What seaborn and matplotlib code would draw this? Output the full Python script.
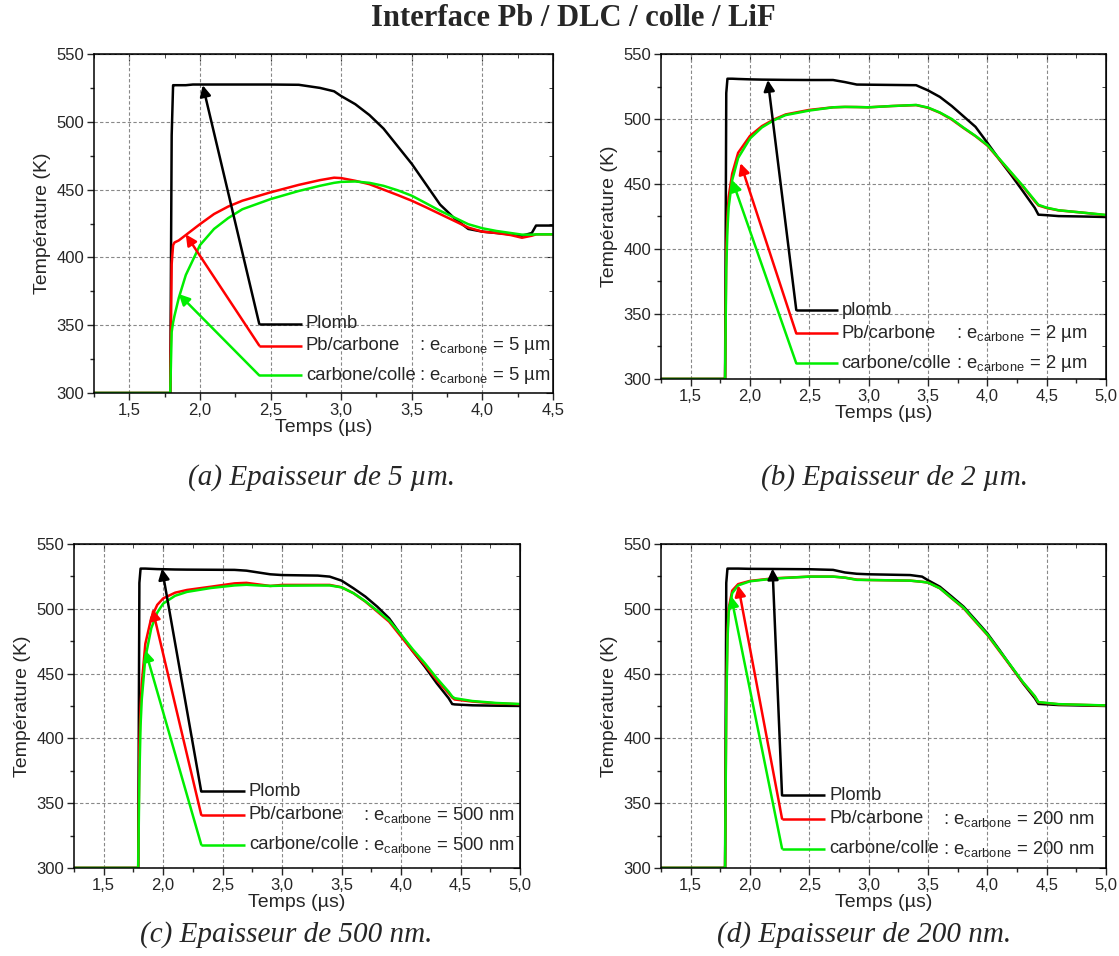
import matplotlib
matplotlib.use("Agg")
import matplotlib.pyplot as plt
import seaborn as sns
from matplotlib.ticker import MultipleLocator, FuncFormatter

# Data (time in µs, temperature in K)

# (a) 5 µm
t_a = [1.25, 1.78, 1.79, 1.80, 1.81, 1.82, 1.85, 1.9, 1.95, 2.0, 2.1, 2.2, 2.3, 2.5, 2.7, 2.85, 2.95,
       3.0, 3.1, 3.2, 3.3, 3.4, 3.5, 3.6, 3.7, 3.8, 3.9, 4.0, 4.1, 4.2, 4.28, 4.35, 4.38, 4.5]
plomb_a = [300, 300, 300, 490, 527, 527, 527, 527, 527.5, 527.5, 527.5, 527.5, 527.5, 527.5, 527.3, 525, 522.5,
           519, 513, 505, 495, 482, 469, 454, 439, 429, 421, 419, 418, 417, 416, 418, 423.5, 423.5]
pb_carbone_a = [300, 300, 300, 395, 409, 411, 412.5, 416.5, 420.5, 424.5, 432, 437.5, 441.8, 448, 453.5, 457, 458.8,
                458.5, 456.5, 454, 450, 446, 441.8, 437, 432, 427, 422, 419, 418, 416.5, 414.5, 416, 417, 417]
carbone_colle_a = [300, 300, 300, 345, 352, 357, 370, 387, 398, 409, 421, 429, 435.5, 443, 449, 452.8, 455,
                   455.7, 456, 455, 452.8, 449.5, 445.5, 440, 434.4, 429.5, 424.5, 421.5, 419.5, 418, 416.8, 416.8, 417, 417]

# (b) 2 µm
t_b = [1.25, 1.78, 1.79, 1.80, 1.81, 1.82, 1.85, 1.9, 2.0, 2.1, 2.2, 2.3, 2.5, 2.7, 2.8, 2.9, 3.0, 3.2, 3.4, 3.5,
       3.6, 3.7, 3.8, 3.9, 4.0, 4.1, 4.2, 4.3, 4.4, 4.43, 4.5, 4.6, 4.8, 5.0]
plomb_b = [300, 300, 300, 520, 531, 531, 531, 530.8, 530.5, 530.3, 530.2, 530.1, 530, 530, 528.4, 526.5, 526.4, 526.2, 526, 522,
           517, 510, 502, 494, 481.7, 469, 457, 444.4, 431.6, 426.4, 426, 425.3, 425, 424.6]
pb_carbone_b = [300, 300, 300, 400, 425, 440, 458, 474, 487, 494.5, 499.6, 503.5, 507, 509, 509.3, 509.2, 509, 510, 510.7, 508.6,
                504.8, 499.6, 493, 486.8, 479.6, 469, 458.5, 448, 436.7, 433.5, 431.5, 429.7, 428, 426]
carbone_colle_b = [300, 300, 300, 385, 415, 432, 453, 470, 485, 493.5, 499, 503, 506.5, 509, 509.3, 509.2, 509, 510, 510.8, 508.8,
                   505, 500, 493.3, 487, 480, 469.5, 459, 448.5, 437.3, 434, 431.8, 429.8, 428, 426.2]

# (c) 500 nm
t_c = [1.25, 1.78, 1.79, 1.80, 1.81, 1.82, 1.85, 1.9, 1.95, 2.0, 2.1, 2.2, 2.4, 2.6, 2.7, 2.8, 2.9, 3.0, 3.3, 3.4,
       3.5, 3.6, 3.7, 3.8, 3.9, 4.0, 4.1, 4.2, 4.3, 4.4, 4.43, 4.45, 4.6, 4.8, 5.0]
plomb_c = [300, 300, 300, 520, 531, 531, 531, 530.8, 530.6, 530.5, 530.3, 530.2, 530.1, 530, 529.4, 528, 526.6, 526, 525.6, 524.8,
           521.7, 515.8, 509.4, 501.6, 492.6, 479.8, 467, 455.3, 442.5, 431, 426.5, 426.2, 425.5, 425.2, 425]
pb_carbone_c = [300, 300, 300, 395, 425, 442, 473, 493, 503, 508, 512.4, 514.5, 517, 519.6, 520, 518.8, 517.6, 518.4, 518.4, 518.4,
                516.6, 512, 505.5, 497.8, 490, 478.5, 467, 456.6, 445, 434.8, 431.5, 430, 428.4, 427, 426.3]
carbone_colle_c = [300, 300, 300, 370, 410, 430, 462, 485, 497, 504, 510, 513, 516, 518, 518.5, 518, 517.6, 517.8, 518, 518,
                   516.5, 512, 505.8, 498.5, 491, 480, 468.5, 458, 446.5, 436, 432.3, 431, 428.8, 427.3, 426.5]

# (d) 200 nm
t_d = [1.25, 1.78, 1.79, 1.80, 1.81, 1.82, 1.85, 1.9, 2.0, 2.2, 2.5, 2.7, 2.8, 2.9, 3.0, 3.35, 3.45, 3.5, 3.6, 3.7,
       3.8, 3.9, 4.0, 4.1, 4.2, 4.3, 4.4, 4.43, 4.6, 5.0]
plomb_d = [300, 300, 300, 520, 531, 531, 531, 531, 530.8, 530.7, 530.5, 530, 528, 527, 526.6, 526, 524.8, 522, 517, 509.4,
           501.6, 491.4, 481, 468.5, 455.5, 442.6, 431, 426.6, 425.7, 425]
pb_carbone_d = [300, 300, 300, 430, 480, 500, 514, 519, 521.5, 523.5, 524.8, 524.8, 524, 522.5, 522.2, 521.7, 520.8, 520.2, 515.8, 508,
                500.4, 490, 479.8, 467.5, 455.3, 443, 432.3, 427.8, 426.3, 425.3]
carbone_colle_d = [300, 300, 300, 420, 475, 497, 512, 518, 521.2, 523.3, 524.8, 524.8, 524, 522.3, 522.2, 521.7, 520.8, 520.2, 515.8, 508.2,
                   500.8, 490.5, 480.2, 468, 455.8, 443.4, 432.6, 428, 426.4, 425.4]

first_labels = ["Plomb", "plomb", "Plomb", "Plomb"]
thickness = ["5 µm", "2 µm", "500 nm", "200 nm"]
captions = ["(a) Epaisseur de 5 µm.", "(b) Epaisseur de 2 µm.",
            "(c) Epaisseur de 500 nm.", "(d) Epaisseur de 200 nm."]

colors = ["#000000", "#ff0000", "#00ee00"]

sns.set_style("ticks")
plt.rcParams["font.family"] = ["Liberation Sans", "DejaVu Sans"]
plt.rcParams["mathtext.fontset"] = "custom"
plt.rcParams["mathtext.rm"] = "Liberation Sans"
plt.rcParams["mathtext.it"] = "Liberation Sans:italic"

fig = plt.figure(figsize=(11.19, 9.56), dpi=100)

# axes boxes (left, bottom, width, height) in figure fractions
boxes = [
    [0.0840, 0.5889, 0.4102, 0.3546],
    [0.5907, 0.6036, 0.3977, 0.3399],
    [0.0661, 0.0921, 0.3986, 0.3389],
    [0.5907, 0.0921, 0.3977, 0.3389],
]

# legend layout in data coords: segment x0, x1, text x, right x, row ys, arrow targets
legends = [
    dict(x0=2.42, x1=2.72, tx=2.75, rx=4.48, ys=[351, 335, 313],
         targets=[(2.02, 527), (1.90, 417), (1.85, 373)]),
    dict(x0=2.39, x1=2.74, tx=2.77, rx=4.84, ys=[353, 335, 312],
         targets=[(2.15, 530), (1.92, 466), (1.85, 453)]),
    dict(x0=2.32, x1=2.69, tx=2.72, rx=4.95, ys=[359, 341, 318],
         targets=[(1.99, 531), (1.91, 500), (1.85, 468)]),
    dict(x0=2.27, x1=2.63, tx=2.67, rx=4.90, ys=[356, 338, 315],
         targets=[(2.19, 531), (1.90, 518), (1.84, 510)]),
]

panels = [
    (t_a, [plomb_a, pb_carbone_a, carbone_colle_a], 4.5),
    (t_b, [plomb_b, pb_carbone_b, carbone_colle_b], 5.0),
    (t_c, [plomb_c, pb_carbone_c, carbone_colle_c], 5.0),
    (t_d, [plomb_d, pb_carbone_d, carbone_colle_d], 5.0),
]

comma = FuncFormatter(lambda v, p: f"{v:.1f}".replace(".", ","))

for i, (t, series, xmax) in enumerate(panels):
    ax = fig.add_axes(boxes[i])
    for vals, c in zip(series, colors):
        sns.lineplot(x=t, y=vals, color=c, lw=1.8, ax=ax, estimator=None, sort=False)

    ax.set_xlim(1.25, xmax)
    ax.set_ylim(300, 550)
    ax.xaxis.set_major_locator(MultipleLocator(0.5))
    ax.xaxis.set_minor_locator(MultipleLocator(0.25))
    ax.yaxis.set_major_locator(MultipleLocator(50))
    ax.yaxis.set_minor_locator(MultipleLocator(25))
    ax.xaxis.set_major_formatter(comma)
    ax.tick_params(which="major", direction="out", length=5, width=1, labelsize=12, pad=2)
    ax.tick_params(which="minor", direction="out", length=3, width=1)
    ax.grid(True, which="major", color="#888888", lw=0.8, ls=(0, (3, 2)))
    for s in ax.spines.values():
        s.set_linewidth(1.1)
        s.set_color("black")

    # mirrored inner ticks on top and right
    top = ax.secondary_xaxis("top")
    top.xaxis.set_major_locator(MultipleLocator(0.5))
    top.xaxis.set_minor_locator(MultipleLocator(0.25))
    top.tick_params(which="major", direction="in", length=5, labeltop=False)
    top.tick_params(which="minor", direction="in", length=3)
    right = ax.secondary_yaxis("right")
    right.yaxis.set_major_locator(MultipleLocator(50))
    right.yaxis.set_minor_locator(MultipleLocator(25))
    right.tick_params(which="major", direction="in", length=5, labelright=False)
    right.tick_params(which="minor", direction="in", length=3)

    ax.set_xlabel("Temps (µs)", fontsize=14, labelpad=1)
    ax.set_ylabel("Température (K)", fontsize=14, labelpad=4)

    # Origin-style legend with arrows pointing at the curves
    lg = legends[i]
    names = [first_labels[i], "Pb/carbone", "carbone/colle"]
    for k in range(3):
        y = lg["ys"][k]
        ax.plot([lg["x0"], lg["x1"]], [y, y], color=colors[k], lw=1.8, solid_capstyle="butt")
        ax.annotate("", xy=lg["targets"][k], xytext=(lg["x0"], y),
                    arrowprops=dict(arrowstyle="-|>", color=colors[k], lw=1.8,
                                    mutation_scale=16, shrinkA=0, shrinkB=0))
        ax.text(lg["tx"], y, names[k], fontsize=13.3, va="center", ha="left")
        if k > 0:
            ax.text(lg["rx"], y, ": e$_{\\mathrm{carbone}}$ = " + thickness[i],
                    fontsize=13.3, va="center", ha="right")

fig.text(0.512, 0.981, "Interface Pb / DLC / colle / LiF", ha="center", va="center",
         fontsize=22, fontweight="bold", family=["Liberation Serif", "DejaVu Serif"])

cap_pos = [(0.287, 0.501), (0.799, 0.501), (0.256, 0.022), (0.772, 0.022)]
for (x, y), cap in zip(cap_pos, captions):
    fig.text(x, y, cap, ha="center", va="center", fontsize=21, style="italic",
             family=["Liberation Serif", "DejaVu Serif"])

fig.savefig("out.png", dpi=100)
